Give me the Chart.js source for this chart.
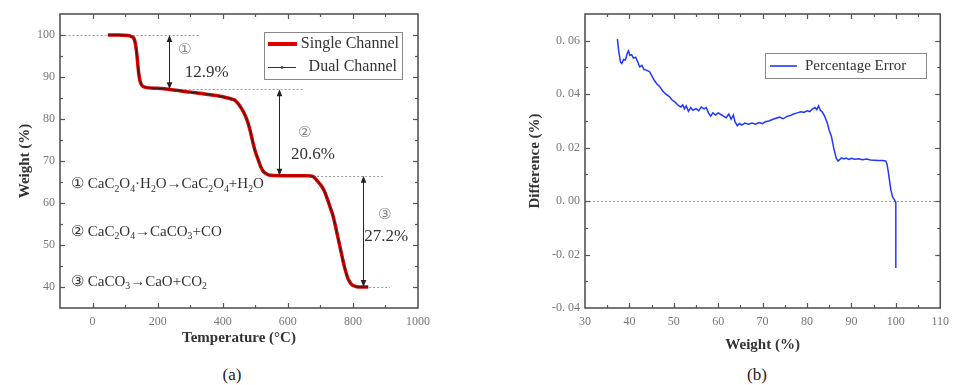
<!DOCTYPE html>
<html>
<head>
<meta charset="utf-8">
<script src="https://cdn.jsdelivr.net/npm/chart.js@4.4.0/dist/chart.umd.min.js"></script>
<style>
  body { margin: 0; background: #fff; width: 956px; height: 385px; overflow: hidden; position: relative; font-family: "Liberation Serif", serif; }
  #cA { position: absolute; left: 0; top: 0; }
  #cB { position: absolute; left: 480px; top: 0; }
  .cap { position: absolute; font-size: 17px; color: #222; transform: translate(-50%, -50%); }
</style>
</head>
<body>
<canvas id="cA" width="480" height="349"></canvas>
<canvas id="cB" width="476" height="356"></canvas>
<div class="cap" style="left:232px;top:375px">(a)</div>
<div class="cap" style="left:757px;top:375px">(b)</div>
<script>
// ---------- (a) TG curve ----------
const tempC = [47, 80, 110, 120, 127, 131, 136, 141, 146, 152, 160, 200, 250, 300, 350, 400, 430, 440, 457, 468, 478, 486, 493, 501, 509, 517, 524, 535, 545, 600, 660, 678, 690, 700, 710, 720, 730, 739, 750, 760, 768, 775, 785, 796, 806, 816, 830, 847];
const singleWeight = [100, 100, 99.9, 99.6, 99.2, 98.2, 95.5, 91.5, 89.0, 88.0, 87.6, 87.3, 86.9, 86.4, 85.9, 85.3, 84.7, 84.3, 82.6, 81.0, 79.0, 76.7, 74.3, 72.0, 70.3, 68.6, 67.6, 66.9, 66.6, 66.5, 66.5, 66.3, 65.3, 64.4, 63.2, 61.3, 59.0, 56.9, 53.2, 49.7, 46.8, 44.5, 42.0, 40.6, 40.2, 40.0, 40.0, 40.0];
const dualWeight = singleWeight.slice();
const tempTicks = [0, 200, 400, 600, 800, 1000];
const tempMinor = [100, 300, 500, 700, 900];
const weightTicks = [40, 50, 60, 70, 80, 90, 100];
const weightMinor = [45, 55, 65, 75, 85, 95];

// step annotations (data units)
const stepLevels = [100, 87.1, 66.5, 40];
const arrowTemps = [234, 573, 831];
const levelSpans = [[-86, 329], [246, 646], [690, 892], [850, 914]];
const stepMarks = ['\u2460', '\u2461', '\u2462'];
const stepLoss = ['12.9%', '20.6%', '27.2%'];
const markPos = [[283, 96.5], [652, 76.7], [898, 57.0]];
const lossPos = [[351, 91.0], [677, 71.5], [902, 52.0]];
const reactions = ['\u2460 CaC_2O_4\u00b7H_2O\u2192CaC_2O_4+H_2O', '\u2461 CaC_2O_4\u2192CaCO_3+CO', '\u2462 CaCO_3\u2192CaO+CO_2'];
const reactionPos = [[-66, 64.4], [-66, 53.0], [-66, 41.1]];

// ---------- (b) percentage error ----------
const errWeight = [37.3, 37.6, 38.0, 38.3, 38.7, 39.1, 39.5, 39.8, 40.1, 40.5, 40.9, 41.4, 41.9, 42.3, 42.8, 43.3, 43.8, 44.5, 45.0, 45.6, 46.2, 46.8, 47.5, 48.2, 49.0, 49.6, 50.3, 51.0, 51.6, 52.0, 52.4, 52.8, 53.3, 53.8, 54.3, 55.0, 55.6, 56.2, 56.8, 57.3, 57.8, 58.3, 58.8, 59.4, 60.0, 60.6, 61.2, 61.8, 62.4, 62.9, 63.4, 63.8, 64.3, 64.8, 65.3, 66.0, 66.8, 67.6, 68.4, 69.2, 70.0, 70.6, 71.4, 72.2, 73.0, 73.8, 74.6, 75.4, 76.2, 77.0, 77.8, 78.6, 79.3, 80.0, 80.6, 81.2, 81.8, 82.2, 82.6, 83.0, 83.4, 84.0, 84.6, 85.0, 85.5, 86.0, 86.6, 87.0, 87.4, 87.8, 88.3, 88.8, 89.4, 90.0, 90.8, 91.6, 92.5, 93.4, 94.3, 95.2, 96.1, 97.0, 97.7, 98.0, 98.3, 98.6, 98.9, 99.3, 99.7, 100.0, 100.0, 100.0, 100.0];
const errPct = [0.0606, 0.0560, 0.0520, 0.0515, 0.0530, 0.0528, 0.0552, 0.0562, 0.0545, 0.0548, 0.0535, 0.0538, 0.0520, 0.0502, 0.0508, 0.0492, 0.0490, 0.0485, 0.0470, 0.0452, 0.0438, 0.0429, 0.0412, 0.0400, 0.0391, 0.0378, 0.0370, 0.0358, 0.0352, 0.0360, 0.0345, 0.0356, 0.0336, 0.0350, 0.0340, 0.0346, 0.0338, 0.0352, 0.0345, 0.0350, 0.0330, 0.0318, 0.0330, 0.0322, 0.0330, 0.0324, 0.0318, 0.0312, 0.0326, 0.0306, 0.0322, 0.0296, 0.0282, 0.0290, 0.0284, 0.0292, 0.0288, 0.0292, 0.0288, 0.0294, 0.0290, 0.0297, 0.0300, 0.0305, 0.0310, 0.0314, 0.0308, 0.0316, 0.0320, 0.0326, 0.0330, 0.0334, 0.0332, 0.0338, 0.0335, 0.0344, 0.0350, 0.0342, 0.0356, 0.0340, 0.0334, 0.0317, 0.0290, 0.0265, 0.0242, 0.0200, 0.0160, 0.0150, 0.0156, 0.0162, 0.0158, 0.0161, 0.0156, 0.0160, 0.0157, 0.0158, 0.0155, 0.0157, 0.0154, 0.0153, 0.0152, 0.0152, 0.0150, 0.0140, 0.0110, 0.0075, 0.0040, 0.0015, 0.0005, -0.0005, -0.0080, -0.0160, -0.0250];
const errXTicks = [30, 40, 50, 60, 70, 80, 90, 100, 110];
const errXMinor = [35, 45, 55, 65, 75, 85, 95, 105];
const errYTicks = [-0.04, -0.02, 0, 0.02, 0.04, 0.06];
const errYMinor = [-0.03, -0.01, 0.01, 0.03, 0.05];

const SERIF = '"Liberation Serif", "DejaVu Serif", serif';
const TICK_COLOR = '#777';
const TITLE_COLOR = '#333';

function pts(xs, ys) {
  return xs.map((x, i) => ({ x: x, y: ys[i] }));
}

// frame with inward ticks on all 4 sides
const framePlugin = {
  id: 'frame',
  afterDraw(chart, args, opts) {
    const { ctx, chartArea: a } = chart;
    const x = chart.scales.x, y = chart.scales.y;
    ctx.save();
    ctx.strokeStyle = '#555';
    ctx.lineWidth = 1.2;
    function seg(x1, y1, x2, y2) { ctx.beginPath(); ctx.moveTo(x1, y1); ctx.lineTo(x2, y2); ctx.stroke(); }
    function xt(vals, len) {
      vals.forEach(v => {
        const p = Math.round(x.getPixelForValue(v)) + 0.5;
        if (p <= a.left + 1 || p >= a.right - 1) return;
        seg(p, a.bottom, p, a.bottom - len);
        seg(p, a.top, p, a.top + len);
      });
    }
    function yt(vals, len) {
      vals.forEach(v => {
        const p = Math.round(y.getPixelForValue(v)) + 0.5;
        if (p <= a.top + 1 || p >= a.bottom - 1) return;
        seg(a.left, p, a.left + len, p);
        seg(a.right, p, a.right - len, p);
      });
    }
    xt(opts.xMajor, 5); xt(opts.xMinor, 3);
    yt(opts.yMajor, 5); yt(opts.yMinor, 3);
    ctx.lineWidth = 1.6;
    ctx.strokeRect(a.left, a.top, a.right - a.left, a.bottom - a.top);
    ctx.restore();
  }
};

// text with "_d" subscripts
function richText(ctx, str, x, y, size) {
  let cx = x;
  const parts = str.split(/(_\d)/);
  parts.forEach(p => {
    if (!p) return;
    if (p[0] === '_') {
      ctx.font = (size * 0.65) + 'px ' + SERIF;
      ctx.fillText(p[1], cx, y + size * 0.3);
      cx += ctx.measureText(p[1]).width;
    } else {
      ctx.font = size + 'px ' + SERIF;
      ctx.fillText(p, cx, y);
      cx += ctx.measureText(p).width;
    }
  });
}

function arrowHead(ctx, x, y, dir) {
  ctx.beginPath();
  ctx.moveTo(x, y);
  ctx.lineTo(x - 2.8, y - dir * 7);
  ctx.lineTo(x + 2.8, y - dir * 7);
  ctx.closePath();
  ctx.fill();
}

const tgaAnnot = {
  id: 'tgaAnnot',
  beforeDatasetsDraw(chart) {
    const { ctx } = chart;
    const x = chart.scales.x, y = chart.scales.y;
    ctx.save();
    ctx.strokeStyle = '#9a9a9a';
    ctx.lineWidth = 1;
    ctx.setLineDash([2, 2]);
    stepLevels.forEach((lv, i) => {
      const py = Math.round(y.getPixelForValue(lv)) + 0.5;
      ctx.beginPath();
      ctx.moveTo(x.getPixelForValue(levelSpans[i][0]), py);
      ctx.lineTo(x.getPixelForValue(levelSpans[i][1]), py);
      ctx.stroke();
    });
    ctx.restore();
  },
  afterDatasetsDraw(chart) {
    const { ctx } = chart;
    const x = chart.scales.x, y = chart.scales.y;
    ctx.save();
    // arrows
    ctx.strokeStyle = '#222';
    ctx.fillStyle = '#222';
    ctx.lineWidth = 1;
    arrowTemps.forEach((t, i) => {
      const px = Math.round(x.getPixelForValue(t)) + 0.5;
      const y1 = y.getPixelForValue(stepLevels[i]);
      const y2 = y.getPixelForValue(stepLevels[i + 1]);
      ctx.beginPath(); ctx.moveTo(px, y1 + 3); ctx.lineTo(px, y2 - 3); ctx.stroke();
      arrowHead(ctx, px, y1, -1);
      arrowHead(ctx, px, y2, 1);
    });
    // step labels
    ctx.textAlign = 'center';
    ctx.textBaseline = 'middle';
    stepMarks.forEach((m, i) => {
      ctx.fillStyle = '#888';
      ctx.font = '15px "DejaVu Sans", sans-serif';
      ctx.fillText(m, x.getPixelForValue(markPos[i][0]), y.getPixelForValue(markPos[i][1]));
      ctx.fillStyle = '#333';
      ctx.font = '17px ' + SERIF;
      ctx.fillText(stepLoss[i], x.getPixelForValue(lossPos[i][0]), y.getPixelForValue(lossPos[i][1]));
    });
    // reactions
    ctx.textAlign = 'left';
    ctx.fillStyle = '#333';
    reactions.forEach((r, i) => {
      richText(ctx, r, x.getPixelForValue(reactionPos[i][0]), y.getPixelForValue(reactionPos[i][1]), 15);
    });
    // legend box
    ctx.strokeStyle = '#888';
    ctx.lineWidth = 1;
    ctx.strokeRect(264.5, 32.5, 138, 47);
    ctx.strokeStyle = '#e00000';
    ctx.lineWidth = 4;
    ctx.beginPath(); ctx.moveTo(268, 44); ctx.lineTo(297, 44); ctx.stroke();
    ctx.strokeStyle = '#333';
    ctx.lineWidth = 1;
    ctx.beginPath(); ctx.moveTo(268, 67.5); ctx.lineTo(296, 67.5); ctx.stroke();
    ctx.fillStyle = '#333';
    ctx.beginPath(); ctx.arc(282, 67.5, 1.3, 0, Math.PI * 2); ctx.fill();
    ctx.font = '16px ' + SERIF;
    ctx.textAlign = 'right';
    ctx.fillText('Single Channel', 399, 44);
    ctx.fillText('Dual Channel', 397, 67);
    ctx.restore();
  }
};

const errAnnot = {
  id: 'errAnnot',
  beforeDatasetsDraw(chart) {
    const { ctx, chartArea: a } = chart;
    const y = chart.scales.y;
    const py = Math.round(y.getPixelForValue(0)) + 0.5;
    ctx.save();
    ctx.strokeStyle = '#9a9a9a';
    ctx.lineWidth = 1;
    ctx.setLineDash([2, 2]);
    ctx.beginPath(); ctx.moveTo(a.left, py); ctx.lineTo(a.right, py); ctx.stroke();
    ctx.restore();
  },
  afterDatasetsDraw(chart) {
    const { ctx } = chart;
    ctx.save();
    ctx.strokeStyle = '#888';
    ctx.lineWidth = 1;
    ctx.strokeRect(285.5, 53.5, 161, 25);
    ctx.strokeStyle = '#2038ff';
    ctx.lineWidth = 1.6;
    ctx.beginPath(); ctx.moveTo(290, 66); ctx.lineTo(317, 66); ctx.stroke();
    ctx.fillStyle = '#333';
    ctx.font = '15px ' + SERIF;
    ctx.textBaseline = 'middle';
    ctx.fillText('Percentage Error', 325, 66);
    ctx.restore();
  }
};

function fixTicks(list) {
  return function (scale) { scale.ticks = list.map(v => ({ value: v })); };
}

function baseScales(cfg) {
  return {
    x: {
      type: 'linear', min: cfg.xMin, max: cfg.xMax,
      afterBuildTicks: fixTicks(cfg.xTicks),
      afterFit: s => { s.height = cfg.xAxisH; },
      grid: { display: false, drawTicks: false },
      border: { display: false },
      ticks: { color: TICK_COLOR, font: { family: SERIF, size: 12 }, padding: 7, maxRotation: 0, autoSkip: false, callback: cfg.xFmt },
      title: { display: true, text: cfg.xTitle, color: TITLE_COLOR, font: { family: SERIF, size: 15, weight: 'bold' }, padding: { top: 0, bottom: 2 } }
    },
    y: {
      type: 'linear', min: cfg.yMin, max: cfg.yMax,
      afterBuildTicks: fixTicks(cfg.yTicks),
      afterFit: s => { s.width = cfg.yAxisW; },
      grid: { display: false, drawTicks: false },
      border: { display: false },
      ticks: { color: TICK_COLOR, font: { family: SERIF, size: 12 }, padding: 5, autoSkip: false, callback: cfg.yFmt },
      title: { display: true, text: cfg.yTitle, color: TITLE_COLOR, font: { family: SERIF, size: 15, weight: 'bold' }, padding: { top: 0, bottom: 2 } }
    }
  };
}

new Chart(document.getElementById('cA'), {
  type: 'line',
  data: {
    datasets: [
      { label: 'Dual Channel', data: pts(tempC, dualWeight), borderColor: '#1a1a1a', borderWidth: 1, pointRadius: 0, cubicInterpolationMode: 'monotone' },
      { label: 'Single Channel', data: pts(tempC, singleWeight), borderColor: '#e00000', borderWidth: 3.5, pointRadius: 0, cubicInterpolationMode: 'monotone' }
    ]
  },
  options: {
    responsive: false,
    animation: false,
    layout: { padding: { left: 16, top: 14, right: 62, bottom: 0 } },
    plugins: {
      legend: { display: false },
      tooltip: { enabled: false },
      frame: { xMajor: tempTicks, xMinor: tempMinor, yMajor: weightTicks, yMinor: weightMinor }
    },
    scales: baseScales({
      xMin: -100, xMax: 1000, xTicks: tempTicks, xAxisH: 41, xTitle: 'Temperature (\u00b0C)', xFmt: v => String(v),
      yMin: 35, yMax: 105, yTicks: weightTicks, yAxisW: 44, yTitle: 'Weight (%)', yFmt: v => String(v)
    })
  },
  plugins: [framePlugin, tgaAnnot]
});

new Chart(document.getElementById('cB'), {
  type: 'line',
  data: {
    datasets: [
      { label: 'Percentage Error', data: pts(errWeight, errPct), borderColor: '#2038ff', borderWidth: 1.5, pointRadius: 0, tension: 0 }
    ]
  },
  options: {
    responsive: false,
    animation: false,
    layout: { padding: { left: 46, top: 14, right: 13, bottom: 0 } },
    plugins: {
      legend: { display: false },
      tooltip: { enabled: false },
      frame: { xMajor: errXTicks, xMinor: errXMinor, yMajor: errYTicks, yMinor: errYMinor }
    },
    scales: baseScales({
      xMin: 30, xMax: 110, xTicks: errXTicks, xAxisH: 48, xTitle: 'Weight (%)', xFmt: v => String(v),
      yMin: -0.04, yMax: 0.07, yTicks: errYTicks, yAxisW: 59, yTitle: 'Difference (%)',
      yFmt: v => v.toFixed(2).replace('.', '. ')
    })
  },
  plugins: [framePlugin, errAnnot]
});
</script>
</body>
</html>
